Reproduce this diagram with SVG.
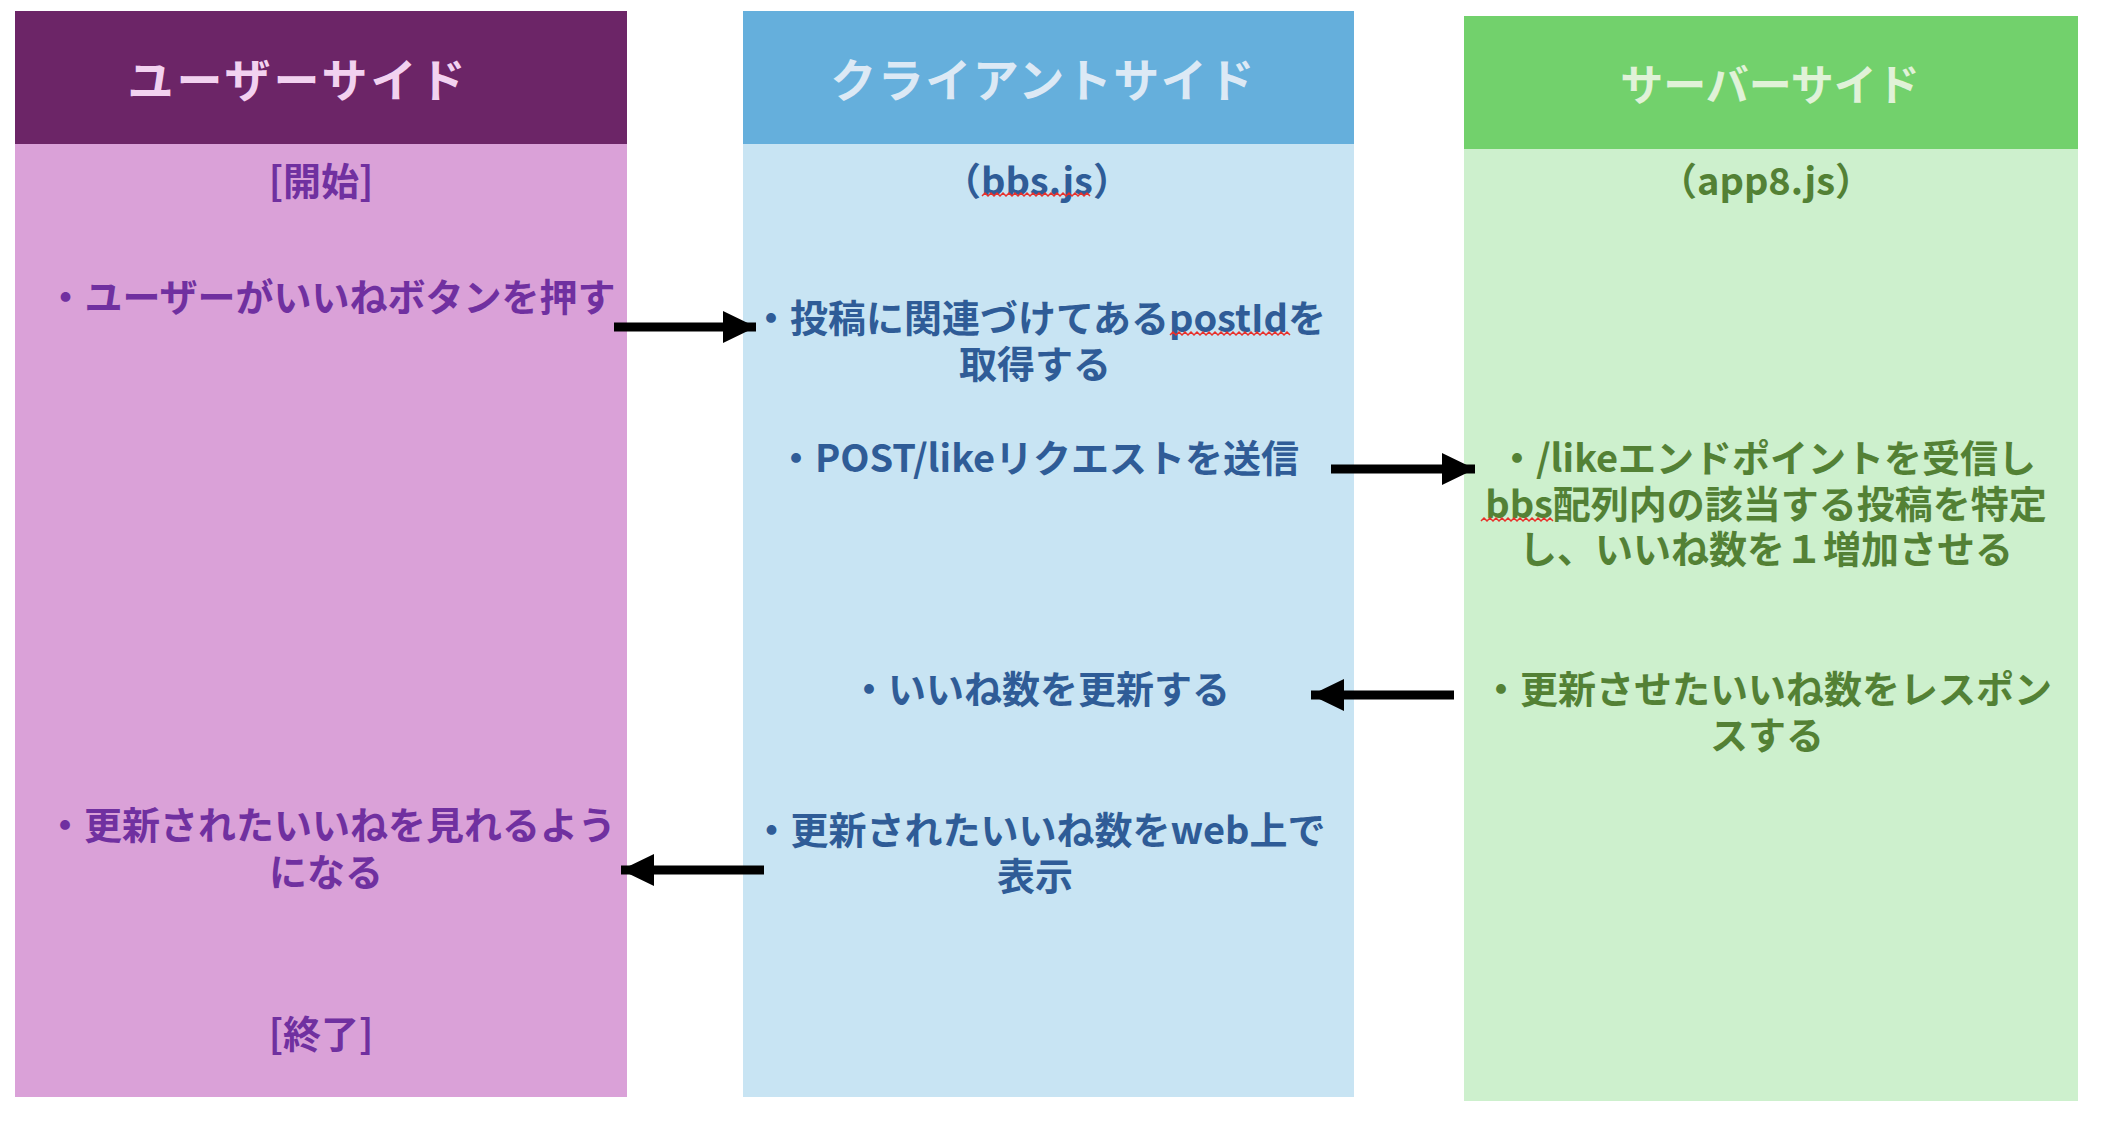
<svg xmlns="http://www.w3.org/2000/svg" width="2106" height="1128" viewBox="0 0 2106 1128">
<style>
text{font-family:"Noto Sans CJK JP","Noto Sans",sans-serif;font-weight:bold;text-anchor:middle;dominant-baseline:central}
.hd{font-size:46px;letter-spacing:1.5px}
.bd{font-size:38px}
.u{fill:#7030A0}.c{fill:#2F5C97}.s{fill:#538135}
.sq{fill:none;stroke:#E8302A;stroke-width:1.5}
.ar{stroke:#000;stroke-width:9;fill:none;marker-end:url(#ah)}
</style>
<defs>
<marker id="ah" markerUnits="userSpaceOnUse" markerWidth="34" markerHeight="34" refX="33" refY="16" orient="auto" viewBox="0 0 34 32">
<path d="M0,0 L33,16 L0,32 Z" fill="#000"/>
</marker>
</defs>
<rect width="2106" height="1128" fill="#fff"/>
<g id="user">
<rect x="15" y="11" width="612" height="133" fill="#6C2567"/>
<rect x="15" y="144" width="612" height="953" fill="#DAA1D8"/>
<text class="hd" x="298" y="77" fill="#F2D2F0" style="letter-spacing:3px">ユーザーサイド</text>
<text class="bd u" x="321" y="178">[開始]</text>
<text class="bd u" x="331" y="294">・ユーザーがいいねボタンを押す</text>
<text class="bd u"><tspan x="331" y="822">・更新されたいいねを見れるよう</tspan><tspan x="326" y="869">になる</tspan></text>
<text class="bd u" x="321" y="1031">[終了]</text>
</g>
<g id="client">
<rect x="743" y="11" width="611" height="133" fill="#65AFDC"/>
<rect x="743" y="144" width="611" height="953" fill="#C8E4F3"/>
<text class="hd" x="1043" y="77" fill="#DCE9F5">クライアントサイド</text>
<text class="bd c" x="1037" y="178">（bbs.js）</text>
<text class="bd c"><tspan x="1039" y="315">・投稿に関連づけてあるpostIdを</tspan><tspan x="1035" y="361">取得する</tspan></text>
<text class="bd c" x="1038" y="455">・POST/likeリクエストを送信</text>
<text class="bd c" x="1040" y="686">・いいね数を更新する</text>
<text class="bd c"><tspan x="1039" y="827">・更新されたいいね数をweb上で</tspan><tspan x="1035" y="873">表示</tspan></text>
</g>
<g id="server">
<rect x="1464" y="16" width="614" height="133" fill="#72D16C"/>
<rect x="1464" y="149" width="614" height="952" fill="#CDF0CD"/>
<text class="hd" x="1770" y="82" fill="#E0F2D8" style="font-size:43px;letter-spacing:0">サーバーサイド</text>
<text class="bd s" x="1766" y="178">（app8.js）</text>
<text class="bd s"><tspan x="1767" y="455">・/likeエンドポイントを受信し</tspan><tspan x="1766" y="501">bbs配列内の該当する投稿を特定</tspan><tspan x="1766" y="546">し、いいね数を１増加させる</tspan></text>
<text class="bd s"><tspan x="1767" y="686">・更新させたいいね数をレスポン</tspan><tspan x="1767" y="732">スする</tspan></text>
</g>
<g id="squiggles">
<path class="sq" d="M982,196 l3,-3 l3,3 l3,-3 l3,3 l3,-3 l3,3 l3,-3 l3,3 l3,-3 l3,3 l3,-3 l3,3 l3,-3 l3,3 l3,-3 l3,3 l3,-3 l3,3 l3,-3 l3,3 l3,-3 l3,3 l3,-3 l3,3 l3,-3 l3,3 l3,-3 l3,3 l3,-3 l3,3 l3,-3 l3,3 l3,-3 l3,3 l3,-3 l3,3"/>
<path class="sq" d="M1170,335 l3,-3 l3,3 l3,-3 l3,3 l3,-3 l3,3 l3,-3 l3,3 l3,-3 l3,3 l3,-3 l3,3 l3,-3 l3,3 l3,-3 l3,3 l3,-3 l3,3 l3,-3 l3,3 l3,-3 l3,3 l3,-3 l3,3 l3,-3 l3,3 l3,-3 l3,3 l3,-3 l3,3 l3,-3 l3,3 l3,-3 l3,3 l3,-3 l3,3 l3,-3 l3,3 l3,-3 l3,3"/>
<path class="sq" d="M1481,521 l3,-3 l3,3 l3,-3 l3,3 l3,-3 l3,3 l3,-3 l3,3 l3,-3 l3,3 l3,-3 l3,3 l3,-3 l3,3 l3,-3 l3,3 l3,-3 l3,3 l3,-3 l3,3 l3,-3 l3,3 l3,-3 l3,3"/>
</g>
<g id="connectors">
<line class="ar" x1="614" y1="327" x2="756" y2="327"/>
<line class="ar" x1="1331" y1="469" x2="1475" y2="469"/>
<line class="ar" x1="1454" y1="695" x2="1311" y2="695"/>
<line class="ar" x1="764" y1="870" x2="621" y2="870"/>
</g>
</svg>
